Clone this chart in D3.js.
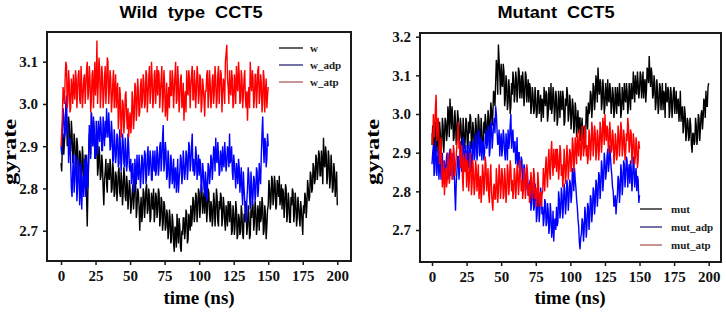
<!DOCTYPE html>
<html>
<head>
<meta charset="utf-8">
<script src="https://cdn.jsdelivr.net/npm/d3@7"></script>
<style>
  body { margin: 0; background: #fff; }
  svg { display: block; }
</style>
</head>
<body>
<div id="chart"></div>
<script>
// time axis ticks (ns) and gyration radius ticks
const xTicks = [0, 25, 50, 75, 100, 125, 150, 175, 200];
const yTicksWild = [2.7, 2.8, 2.9, 3.0, 3.1];
const yTicksMut = [2.7, 2.8, 2.9, 3.0, 3.1, 3.2];

// wild type: value at every whole ns, plus the value half a ns later
const w = [
  2.86,2.90,2.88,2.94,2.97,2.92,2.95,2.89,2.93,2.88,
  2.91,2.86,2.90,2.84,2.88,2.83,2.87,2.82,2.85,2.71,
  2.86,2.92,2.98,2.90,2.94,2.87,2.91,2.85,2.88,2.83,
  2.86,2.76,2.84,2.81,2.86,2.82,2.85,2.80,2.84,2.79,
  2.83,2.80,2.85,2.78,2.82,2.79,2.83,2.77,2.81,2.78,
  2.80,2.76,2.81,2.78,2.82,2.75,2.79,2.70,2.78,2.74,
  2.79,2.76,2.81,2.75,2.78,2.73,2.77,2.80,2.74,2.78,
  2.75,2.79,2.73,2.77,2.72,2.76,2.71,2.74,2.70,2.73,
  2.68,2.72,2.65,2.70,2.74,2.67,2.71,2.65,2.69,2.73,
  2.70,2.74,2.68,2.72,2.76,2.73,2.77,2.74,2.78,2.75,
  2.79,2.76,2.80,2.77,2.74,2.78,2.75,2.79,2.72,2.76,
  2.73,2.77,2.74,2.78,2.71,2.75,2.78,2.73,2.76,2.70,
  2.74,2.77,2.72,2.75,2.70,2.74,2.71,2.75,2.69,2.73,
  2.70,2.74,2.68,2.72,2.75,2.71,2.74,2.69,2.73,2.76,
  2.72,2.75,2.71,2.74,2.77,2.73,2.76,2.70,2.74,2.71,
  2.76,2.80,2.77,2.82,2.78,2.81,2.76,2.80,2.83,2.78,
  2.75,2.79,2.76,2.80,2.74,2.77,2.72,2.76,2.79,2.74,
  2.77,2.73,2.76,2.71,2.75,2.69,2.74,2.78,2.76,2.80,
  2.78,2.83,2.80,2.85,2.82,2.87,2.84,2.88,2.83,2.86,
  2.92,2.85,2.88,2.83,2.87,2.82,2.85,2.80,2.84,2.81,
  2.76
];
const wHalf = [
  2.84,2.93,2.91,2.99,2.90,2.97,2.88,2.96,2.86,2.93,
  2.85,2.92,2.82,2.89,2.81,2.90,2.80,2.88,2.78,2.80,
  2.93,2.88,2.93,2.96,2.88,2.93,2.83,2.90,2.82,2.88,
  2.80,2.82,2.87,2.79,2.83,2.87,2.79,2.86,2.78,2.84,
  2.77,2.84,2.79,2.84,2.76,2.85,2.78,2.83,2.75,2.82,
  2.74,2.79,2.75,2.83,2.73,2.80,2.76,2.75,2.72,2.80,
  2.73,2.80,2.74,2.80,2.72,2.79,2.75,2.72,2.79,2.73,
  2.80,2.71,2.78,2.70,2.77,2.70,2.75,2.68,2.75,2.67,
  2.74,2.67,2.71,2.66,2.70,2.73,2.66,2.70,2.73,2.68,
  2.75,2.67,2.74,2.70,2.71,2.78,2.72,2.79,2.72,2.80,
  2.73,2.81,2.74,2.79,2.80,2.72,2.80,2.74,2.77,2.71,
  2.79,2.71,2.80,2.72,2.77,2.79,2.71,2.78,2.72,2.76,
  2.71,2.76,2.77,2.69,2.76,2.69,2.77,2.68,2.74,2.69,
  2.76,2.69,2.74,2.77,2.69,2.76,2.68,2.75,2.77,2.70,
  2.77,2.69,2.76,2.70,2.72,2.78,2.69,2.76,2.68,2.75,
  2.82,2.75,2.83,2.76,2.83,2.75,2.82,2.78,2.76,2.81,
  2.80,2.73,2.81,2.72,2.79,2.72,2.78,2.80,2.72,2.79,
  2.71,2.78,2.73,2.77,2.72,2.76,2.79,2.73,2.82,2.77,
  2.84,2.79,2.86,2.81,2.88,2.82,2.89,2.83,2.89,2.81,
  2.86,2.90,2.81,2.89,2.80,2.88,2.79,2.86,2.78,2.84
];
const wAdp = [
  2.90,2.94,2.97,2.93,3.02,2.95,2.90,2.86,2.78,2.88,
  2.82,2.86,2.80,2.85,2.79,2.75,2.83,2.87,2.78,2.84,
  2.88,2.93,2.98,2.90,2.94,2.88,2.92,2.96,2.91,2.95,
  2.89,2.93,2.96,2.99,2.92,2.95,2.90,2.93,2.87,2.91,
  2.88,2.92,2.86,2.90,2.87,2.91,2.85,2.89,2.86,2.90,
  2.84,2.81,2.86,2.80,2.84,2.88,2.82,2.85,2.83,2.87,
  2.84,2.88,2.83,2.90,2.85,2.87,2.82,2.86,2.89,2.84,
  2.88,2.85,2.91,2.87,2.95,2.86,2.89,2.83,2.87,2.82,
  2.86,2.83,2.80,2.85,2.82,2.79,2.84,2.87,2.83,2.86,
  2.84,2.88,2.85,2.90,2.86,2.93,2.87,2.84,2.88,2.85,
  2.83,2.86,2.81,2.84,2.78,2.82,2.80,2.85,2.83,2.87,
  2.85,2.89,2.92,2.86,2.88,2.84,2.87,2.90,2.85,2.88,
  2.86,2.89,2.93,2.87,2.84,2.88,2.83,2.86,2.81,2.85,
  2.82,2.79,2.84,2.77,2.72,2.80,2.83,2.75,2.81,2.78,
  2.82,2.79,2.84,2.80,2.83,2.88,2.97,2.86,2.91,2.87,
  2.90
];
const wAdpHalf = [
  2.88,2.99,2.92,3.00,2.93,2.86,2.92,2.80,2.84,2.79,
  2.88,2.77,2.87,2.76,2.86,2.81,2.78,2.82,2.88,2.80,
  2.95,2.87,2.93,2.97,2.87,2.96,2.88,2.93,2.97,2.89,
  2.97,2.90,2.92,2.94,2.98,2.89,2.96,2.86,2.94,2.86,
  2.93,2.85,2.94,2.84,2.93,2.86,2.92,2.84,2.93,2.85,
  2.87,2.85,2.79,2.87,2.81,2.84,2.88,2.80,2.88,2.81,
  2.89,2.81,2.88,2.83,2.89,2.82,2.89,2.84,2.83,2.90,
  2.83,2.90,2.84,2.92,2.84,2.91,2.82,2.89,2.80,2.88,
  2.81,2.87,2.84,2.79,2.87,2.82,2.88,2.81,2.89,2.82,
  2.89,2.82,2.91,2.84,2.90,2.84,2.83,2.90,2.82,2.88,
  2.87,2.79,2.86,2.80,2.84,2.77,2.86,2.81,2.88,2.82,
  2.90,2.84,2.87,2.91,2.83,2.89,2.84,2.86,2.91,2.84,
  2.90,2.85,2.86,2.90,2.82,2.86,2.80,2.84,2.87,2.79,
  2.85,2.76,2.80,2.74,2.77,2.85,2.78,2.84,2.76,2.83,
  2.77,2.85,2.78,2.86,2.81,2.93,2.90,2.92,2.85,2.93
];
const wAtp = [
  2.90,2.97,3.02,3.06,3.09,3.01,3.05,2.99,3.04,3.07,
  3.01,3.06,3.03,3.08,3.00,3.05,3.02,3.07,3.04,3.10,
  3.03,3.06,3.01,3.08,3.04,3.02,3.15,3.05,3.08,3.03,
  3.07,3.02,3.09,3.04,3.10,3.03,3.06,3.01,3.08,3.03,
  2.99,3.05,2.97,3.02,2.95,3.00,2.96,3.03,2.94,2.92,
  2.98,2.95,3.01,2.97,3.04,2.99,3.03,2.98,3.06,3.01,
  3.05,3.00,3.07,3.02,3.09,3.03,3.06,3.01,3.08,3.04,
  3.02,3.07,3.03,3.09,3.01,3.05,2.99,2.96,3.04,3.08,
  3.02,3.06,3.03,3.10,3.01,3.05,3.02,3.07,3.00,2.96,
  3.03,3.08,3.02,3.06,3.04,3.09,3.01,3.05,3.03,3.07,
  3.02,3.06,3.00,3.04,2.97,3.03,3.08,3.02,3.05,3.01,
  3.07,3.03,3.06,3.01,3.09,3.04,3.07,3.02,3.05,3.10,
  3.14,3.04,3.08,3.02,3.06,3.00,3.05,3.09,3.03,3.07,
  3.01,3.06,3.02,3.08,2.99,2.96,3.04,3.10,3.03,3.06,
  3.01,3.07,3.03,3.09,3.02,3.05,3.00,3.06,3.03,2.99,
  3.04
];
const wAtpHalf = [
  2.93,3.04,3.00,3.10,2.99,3.08,2.98,3.06,3.00,3.03,
  3.08,2.99,3.07,3.01,3.09,2.99,3.06,3.00,3.08,3.01,
  3.09,2.98,3.07,2.99,3.10,3.05,3.00,3.11,2.99,3.09,
  2.99,3.06,3.00,3.11,3.00,3.08,2.98,3.05,2.99,3.07,
  3.03,2.94,3.04,2.92,3.01,2.93,3.02,2.97,2.99,2.96,
  2.93,3.03,2.94,3.05,2.96,3.06,2.97,3.04,2.99,3.07,
  2.99,3.08,2.98,3.06,3.00,3.10,2.99,3.07,3.00,3.09,
  3.08,2.99,3.06,2.98,3.08,2.97,3.05,3.01,2.99,3.02,
  3.08,2.99,3.07,3.00,3.09,2.98,3.06,2.99,3.05,3.01,
  2.98,3.03,3.08,2.99,3.07,3.01,3.08,2.99,3.09,3.00,
  3.07,2.98,3.06,3.01,3.03,3.07,2.99,3.08,2.99,3.06,
  3.00,3.09,2.99,3.07,3.00,3.08,2.98,3.06,3.00,3.12,
  3.06,3.00,3.03,3.08,2.99,3.07,3.00,3.04,3.10,3.00,
  3.08,2.99,3.06,3.01,3.03,3.02,2.99,3.05,3.08,2.99,
  3.07,2.99,3.08,3.00,3.07,2.98,3.08,2.98,3.06,3.02
];

// mutant: value at every whole ns, plus the value half a ns later
const mut = [
  2.92,2.95,2.91,2.96,2.93,2.89,2.95,2.92,2.97,2.94,
  2.98,2.95,3.00,3.04,2.96,2.99,2.94,2.98,2.95,2.99,
  2.94,2.97,2.92,2.96,2.93,2.98,2.91,2.95,2.99,2.93,
  2.96,2.92,2.97,2.94,2.98,2.93,2.96,2.91,2.95,2.98,
  2.95,2.99,2.97,3.01,3.00,3.05,3.08,3.12,3.18,3.10,
  3.13,3.07,3.11,3.04,3.08,3.03,3.06,3.02,3.05,3.09,
  3.05,3.09,3.06,3.11,3.07,3.04,3.08,3.05,3.10,3.06,
  3.03,3.07,3.02,3.05,3.01,3.04,3.00,3.06,3.02,2.98,
  3.03,3.07,3.02,3.05,3.00,3.04,3.08,3.02,3.05,3.01,
  3.04,2.99,3.03,3.06,3.01,3.04,2.98,3.02,3.05,3.00,
  3.03,2.99,3.02,2.97,3.01,2.98,2.95,2.99,2.96,2.93,
  2.97,2.94,3.00,3.03,3.01,3.05,3.02,3.07,3.04,3.08,
  3.12,3.05,3.08,3.03,3.06,3.02,3.05,3.09,3.03,3.06,
  3.02,3.05,3.01,3.04,3.07,3.02,3.05,3.01,3.04,3.08,
  3.03,3.06,3.02,3.05,3.08,3.04,3.07,3.10,3.05,3.08,
  3.06,3.10,3.07,3.04,3.09,3.06,3.11,3.15,3.07,3.10,
  3.05,3.08,3.03,3.06,3.02,3.07,3.04,3.01,3.05,3.08,
  3.03,3.06,3.01,3.05,3.02,3.07,3.03,3.00,3.04,3.01,
  2.98,3.02,2.97,3.00,2.95,2.98,2.94,2.97,2.90,2.95,
  2.93,2.97,2.94,2.99,2.96,3.01,2.99,3.03,3.06,3.02,
  3.08
];
const mutHalf = [
  2.97,2.89,2.98,2.90,2.97,2.98,2.89,2.99,2.90,2.99,
  2.93,3.02,2.94,3.00,3.02,2.93,3.01,2.92,3.01,2.93,
  2.99,2.90,2.99,2.91,2.99,2.92,2.98,3.00,2.91,2.98,
  2.91,2.99,2.90,3.00,2.92,2.99,2.90,2.98,3.00,2.93,
  3.01,2.94,3.03,2.97,3.06,3.02,3.14,3.05,3.14,3.05,
  3.08,3.13,3.02,3.10,3.01,3.09,3.00,3.08,3.11,3.03,
  3.11,3.03,3.12,3.04,3.10,3.11,3.02,3.11,3.03,3.09,
  3.08,3.00,3.07,3.00,3.07,2.99,3.06,3.00,3.05,3.04,
  2.99,3.04,3.06,2.98,3.07,3.01,3.00,3.07,2.98,3.06,
  2.97,3.06,2.99,3.02,3.06,2.97,3.04,3.07,2.98,3.05,
  2.96,3.04,2.95,3.03,2.94,3.01,2.99,2.93,2.99,2.95,
  2.91,3.02,2.96,3.00,3.06,2.99,3.08,3.01,3.10,3.03,
  3.07,3.09,3.01,3.09,3.00,3.08,3.02,3.04,3.08,3.00,
  3.07,2.99,3.07,3.00,3.03,3.08,2.99,3.07,3.01,3.04,
  3.08,3.00,3.08,3.01,3.04,3.11,3.03,3.06,3.11,3.04,
  3.11,3.04,3.11,3.08,3.03,3.12,3.08,3.10,3.12,3.04,
  3.10,3.01,3.09,3.00,3.08,3.01,3.08,3.06,2.99,3.04,
  3.07,2.99,3.07,2.99,3.06,3.00,3.06,3.03,2.98,3.06,
  3.01,2.95,3.02,2.93,2.99,2.93,2.99,2.92,2.95,2.92,
  2.99,2.92,3.00,2.93,3.00,2.96,3.04,2.99,3.02,3.07
];
const mutAdp = [
  2.87,2.92,2.85,2.90,2.88,2.83,2.89,2.86,2.82,2.88,
  2.85,2.90,2.86,2.91,2.87,2.83,2.88,2.75,2.85,2.89,
  2.86,2.91,2.88,2.93,2.89,2.86,2.92,2.88,2.91,2.87,
  2.92,2.89,2.94,2.90,2.95,2.91,2.88,2.93,2.90,2.96,
  2.92,2.95,2.91,2.97,2.94,2.99,3.02,2.96,2.93,2.89,
  2.95,2.91,2.94,2.88,2.92,2.96,2.93,3.00,2.94,2.90,
  2.93,2.89,2.86,2.90,2.85,2.88,2.83,2.86,2.81,2.84,
  2.79,2.83,2.77,2.81,2.76,2.80,2.74,2.78,2.75,2.79,
  2.76,2.73,2.77,2.72,2.75,2.71,2.74,2.70,2.67,2.73,
  2.76,2.72,2.78,2.75,2.79,2.76,2.80,2.77,2.81,2.78,
  2.82,2.79,2.84,2.86,2.81,2.76,2.71,2.65,2.69,2.72,
  2.70,2.74,2.71,2.76,2.73,2.78,2.75,2.80,2.77,2.82,
  2.79,2.84,2.81,2.86,2.83,2.88,2.85,2.91,2.87,2.89,
  2.84,2.80,2.77,2.74,2.79,2.83,2.80,2.85,2.82,2.87,
  2.84,2.88,2.85,2.82,2.86,2.83,2.87,2.84,2.80,2.83,
  2.79
];
const mutAdpHalf = [
  2.90,2.84,2.93,2.84,2.91,2.87,2.83,2.90,2.86,2.83,
  2.89,2.83,2.89,2.84,2.90,2.86,2.80,2.82,2.89,2.83,
  2.93,2.85,2.94,2.86,2.92,2.89,2.86,2.93,2.85,2.93,
  2.88,2.95,2.88,2.96,2.89,2.94,2.92,2.88,2.94,2.91,
  2.97,2.89,2.98,2.91,2.97,2.95,3.00,2.92,2.96,2.93,
  2.89,2.96,2.90,2.95,2.88,2.91,2.97,2.91,2.96,2.92,
  2.87,2.94,2.90,2.84,2.89,2.82,2.87,2.80,2.86,2.79,
  2.82,2.75,2.82,2.75,2.82,2.72,2.80,2.72,2.81,2.74,
  2.71,2.78,2.71,2.77,2.69,2.77,2.68,2.75,2.72,2.70,
  2.71,2.80,2.73,2.81,2.73,2.82,2.74,2.83,2.75,2.83,
  2.77,2.86,2.80,2.83,2.78,2.73,2.67,2.68,2.73,2.67,
  2.76,2.68,2.77,2.70,2.79,2.72,2.81,2.74,2.83,2.76,
  2.85,2.78,2.88,2.80,2.90,2.83,2.89,2.85,2.92,2.86,
  2.81,2.76,2.79,2.77,2.84,2.77,2.87,2.79,2.88,2.81,
  2.89,2.81,2.87,2.88,2.80,2.89,2.81,2.86,2.84,2.77
];
const mutAtp = [
  2.95,3.00,2.96,3.05,2.98,2.94,2.90,2.86,2.83,2.79,
  2.86,2.83,2.88,2.84,2.89,2.85,2.90,2.86,2.92,2.98,
  2.93,2.88,2.84,2.89,2.85,2.81,2.86,2.83,2.87,2.82,
  2.85,2.81,2.86,2.83,2.78,2.84,2.80,2.85,2.82,2.87,
  2.83,2.79,2.84,2.80,2.75,2.82,2.78,2.83,2.80,2.85,
  2.81,2.84,2.79,2.83,2.80,2.85,2.82,2.86,2.83,2.80,
  2.84,2.81,2.85,2.82,2.86,2.83,2.80,2.84,2.81,2.85,
  2.82,2.79,2.83,2.80,2.84,2.81,2.78,2.82,2.79,2.76,
  2.80,2.83,2.86,2.84,2.88,2.85,2.90,2.87,2.91,2.88,
  2.85,2.89,2.86,2.90,2.87,2.84,2.88,2.85,2.89,2.86,
  2.90,2.87,2.92,2.88,2.91,2.95,2.89,2.93,2.90,2.94,
  2.91,2.95,2.92,2.89,2.94,2.91,2.96,2.92,2.95,2.90,
  2.94,2.91,2.96,2.93,2.97,3.00,2.93,2.96,2.92,2.95,
  2.91,2.94,2.89,2.93,2.90,2.95,2.92,2.96,2.91,2.94,
  2.90,2.93,2.97,2.92,2.95,2.90,2.93,2.89,2.92,2.88,
  2.91
];
const mutAtpHalf = [
  2.92,2.94,3.02,2.93,2.99,2.87,2.94,2.81,2.88,2.84,
  2.81,2.90,2.82,2.91,2.83,2.92,2.84,2.89,2.95,2.91,
  2.86,2.92,2.80,2.86,2.90,2.88,2.80,2.90,2.79,2.88,
  2.79,2.88,2.80,2.87,2.82,2.77,2.87,2.79,2.89,2.80,
  2.86,2.77,2.87,2.77,2.81,2.78,2.86,2.77,2.87,2.78,
  2.86,2.78,2.86,2.77,2.87,2.79,2.88,2.80,2.78,2.86,
  2.78,2.87,2.79,2.88,2.80,2.78,2.86,2.78,2.87,2.79,
  2.77,2.85,2.78,2.86,2.78,2.76,2.85,2.76,2.80,2.79,
  2.86,2.80,2.89,2.81,2.91,2.83,2.93,2.84,2.86,2.91,
  2.91,2.83,2.92,2.84,2.81,2.91,2.82,2.92,2.83,2.91,
  2.85,2.94,2.85,2.94,2.87,2.91,2.96,2.88,2.97,2.89,
  2.97,2.89,2.87,2.96,2.88,2.98,2.89,2.97,2.88,2.96,
  2.88,2.98,2.90,2.99,2.92,2.95,2.97,2.90,2.98,2.90,
  2.96,2.87,2.95,2.88,2.97,2.89,2.98,2.89,2.96,2.88,
  2.95,2.99,2.90,2.96,2.87,2.95,2.87,2.94,2.86,2.93
];

const svg = d3.select("#chart")
  .append("svg")
  .attr("width", 726)
  .attr("height", 313);

const serif = "Liberation Serif, Times New Roman, serif";
const sans = "Liberation Sans, Arial, sans-serif";

// whole-ns samples and half-ns samples merged in time order
function track(values, half) {
  const pts = [];
  values.forEach((v, i) => {
    pts.push([i, v]);
    if (i < half.length) pts.push([i + 0.5, half[i]]);
  });
  return pts;
}

const panels = [
  {
    title: "Wild  type  CCT5", titleX: 191, titleW: 143,
    frame: [47, 32, 351, 261],
    x0: 61, x1: 337.3,
    yDomain: [2.7, 3.1], yRange: [230.7, 61.7], yTicks: yTicksWild,
    yLabelX: 16, xLabelX: 199,
    series: [
      { name: "w", pts: track(w, wHalf), color: "#000000", legend: "#2e2e2e" },
      { name: "w_adp", pts: track(wAdp, wAdpHalf), color: "#0000ff", legend: "#45458a" },
      { name: "w_atp", pts: track(wAtp, wAtpHalf), color: "#ff0000", legend: "#b87070" }
    ],
    legend: { x: 279, x2: 303, tx: 310, ys: [48, 65, 82] }
  },
  {
    title: "Mutant  CCT5", titleX: 556, titleW: 117,
    frame: [420, 33, 721, 262],
    x0: 432, x1: 708.7,
    yDomain: [2.7, 3.2], yRange: [230, 36.7], yTicks: yTicksMut,
    yLabelX: 379, xLabelX: 570,
    series: [
      { name: "mut", pts: track(mut, mutHalf), color: "#000000", legend: "#2e2e2e" },
      { name: "mut_adp", pts: track(mutAdp, mutAdpHalf), color: "#0000ff", legend: "#45458a" },
      { name: "mut_atp", pts: track(mutAtp, mutAtpHalf), color: "#ff0000", legend: "#b87070" }
    ],
    legend: { x: 640, x2: 662, tx: 671, ys: [209, 227, 245] }
  }
];

panels.forEach(p => {
  const [fx0, fy0, fx1, fy1] = p.frame;
  const x = d3.scaleLinear().domain([0, 200]).range([p.x0, p.x1]);
  const y = d3.scaleLinear().domain(p.yDomain).range(p.yRange);

  // title
  svg.append("text")
    .attr("x", p.titleX)
    .attr("y", 18)
    .attr("text-anchor", "middle")
    .attr("font-family", sans)
    .attr("font-weight", "bold")
    .attr("font-size", 17)
    .attr("textLength", p.titleW)
    .attr("lengthAdjust", "spacingAndGlyphs")
    .style("white-space", "pre")
    .text(p.title);

  // lines
  const line = d3.line()
    .x(d => x(d[0]))
    .y(d => y(d[1]));
  svg.append("g")
    .selectAll("path")
    .data(p.series)
    .join("path")
    .attr("fill", "none")
    .attr("stroke", d => d.color)
    .attr("stroke-width", 1.4)
    .attr("d", d => line(d.pts));

  // frame
  svg.append("rect")
    .attr("x", fx0)
    .attr("y", fy0)
    .attr("width", fx1 - fx0)
    .attr("height", fy1 - fy0)
    .attr("fill", "none")
    .attr("stroke", "#1a1a1a")
    .attr("stroke-width", 2);

  // axes
  const xAxis = svg.append("g")
    .attr("transform", `translate(0,${fy1})`)
    .call(d3.axisBottom(x).tickValues(xTicks).tickSize(4).tickPadding(5).tickFormat(d3.format("d")));
  const yAxis = svg.append("g")
    .attr("transform", `translate(${fx0},0)`)
    .call(d3.axisLeft(y).tickValues(p.yTicks).tickSize(4).tickPadding(5).tickFormat(d3.format(".1f")));
  [xAxis, yAxis].forEach(a => {
    a.attr("font-family", serif).attr("font-size", 15).attr("font-weight", "bold");
    a.select(".domain").remove();
    a.selectAll(".tick line").attr("stroke", "#1a1a1a").attr("stroke-width", 1.5);
    a.selectAll(".tick text")
      .style("font-family", serif)
      .style("font-weight", "bold")
      .style("font-size", "15px")
      .attr("fill", "#111");
  });

  // axis labels
  svg.append("text")
    .attr("x", p.xLabelX)
    .attr("y", 304)
    .attr("text-anchor", "middle")
    .attr("font-family", serif)
    .attr("font-weight", "bold")
    .attr("font-size", 19)
    .text("time (ns)");
  svg.append("text")
    .attr("transform", `translate(${p.yLabelX},152) rotate(-90)`)
    .attr("text-anchor", "middle")
    .attr("font-family", serif)
    .attr("font-weight", "bold")
    .attr("font-size", 19)
    .attr("textLength", 66)
    .attr("lengthAdjust", "spacingAndGlyphs")
    .text("gyrate");

  // legend
  const lg = svg.append("g");
  p.series.forEach((s, i) => {
    lg.append("line")
      .attr("x1", p.legend.x)
      .attr("x2", p.legend.x2)
      .attr("y1", p.legend.ys[i])
      .attr("y2", p.legend.ys[i])
      .attr("stroke", s.legend)
      .attr("stroke-width", 1.5);
    lg.append("text")
      .attr("x", p.legend.tx)
      .attr("y", p.legend.ys[i] + 4)
      .attr("font-family", serif)
      .attr("font-weight", "bold")
      .attr("font-size", 11)
      .attr("fill", "#222")
      .text(s.name);
  });
});
</script>
</body>
</html>
